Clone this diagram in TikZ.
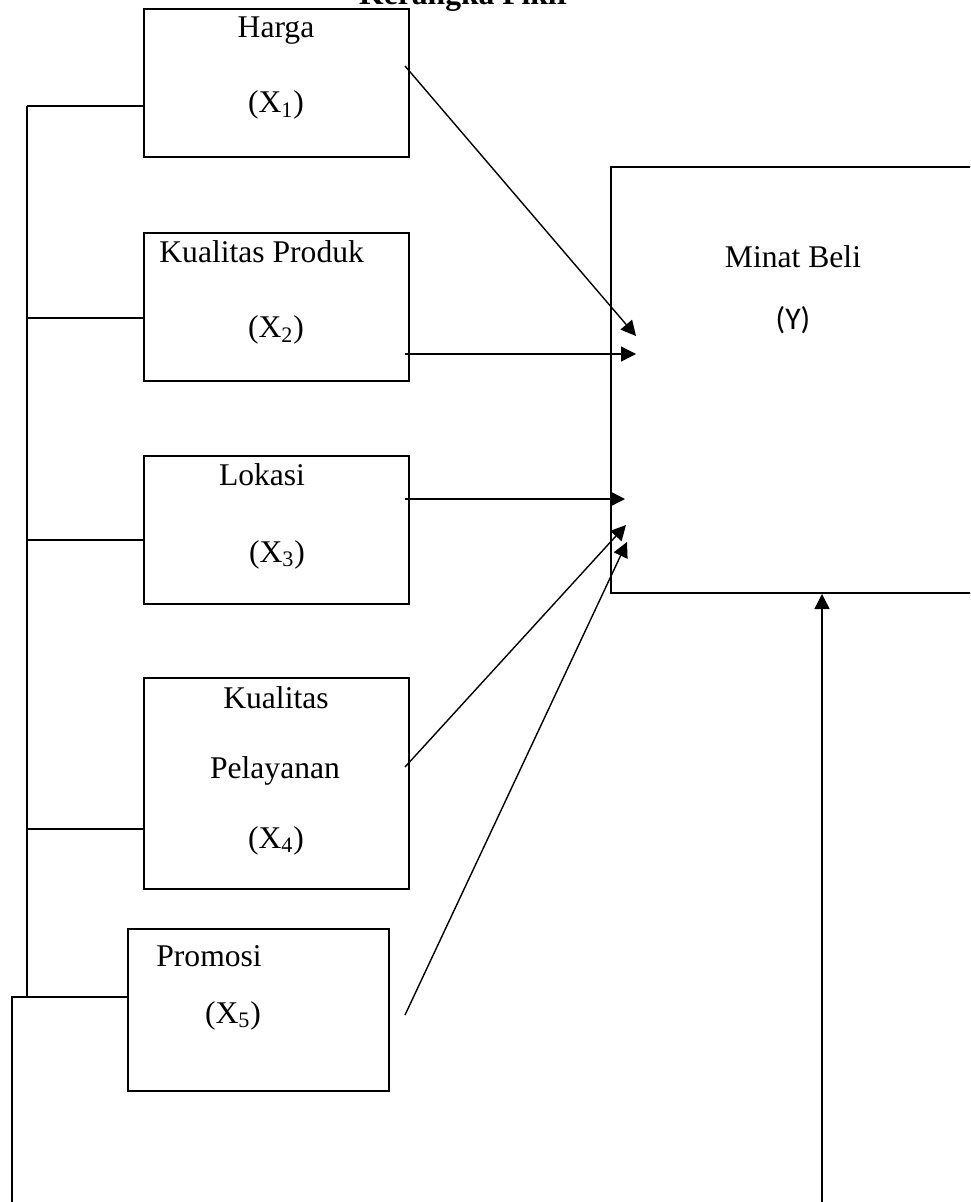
\documentclass[tikz,border=0pt]{standalone}
\usepackage{fontspec}
\setmainfont{Liberation Serif}
\newfontfamily\ysans{Carlito}
\usetikzlibrary{arrows.meta}
\tikzset{
  box/.style={draw, line width=1pt, inner sep=0pt},
  lbl/.style={anchor=base, inner sep=0pt, font=\fontsize{15.8}{18}\selectfont},
  wire/.style={line width=0.75pt},
  arr/.style={line width=0.7pt, -{Triangle[length=7.5pt,width=7.5pt]}},
}
\begin{document}
\begin{tikzpicture}[x=0.5pt,y=-0.5pt]
\useasboundingbox (0,0) rectangle (970,1202);
\clip (0,0) rectangle (970,1202);

% title (cut at top)
\node[lbl, font=\fontsize{15.8}{18}\selectfont\bfseries] (title) at (465,5) {Kerangka Pikir};

% boxes
\node[box, minimum width=132.5pt, minimum height=74pt] (x1) at (276.5,83) {};
\node[box, minimum width=132.5pt, minimum height=74pt] (x2) at (276.5,307) {};
\node[box, minimum width=132.5pt, minimum height=74pt] (x3) at (276.5,530) {};
\node[box, minimum width=132.5pt, minimum height=105.5pt] (x4) at (276.5,783.5) {};
\node[box, minimum width=130.5pt, minimum height=81pt] (x5) at (258.5,1010) {};
\node[box, minimum width=200pt, minimum height=213pt] (y) at (811,380) {};

% labels
\node[lbl] (t1a) at (276,38) {Harga};
\node[lbl] (t1b) at (276,113) {(X\textsubscript{1})};
\node[lbl, anchor=base west] (t2a) at (159,263) {Kualitas Produk};
\node[lbl] (t2b) at (276,338) {(X\textsubscript{2})};
\node[lbl] (t3a) at (262,486) {Lokasi};
\node[lbl] (t3b) at (277,562) {(X\textsubscript{3})};
\node[lbl] (t4a) at (276,708) {Kualitas};
\node[lbl] (t4b) at (275,778) {Pelayanan};
\node[lbl] (t4c) at (276,848) {(X\textsubscript{4})};
\node[lbl, anchor=base west] (t5a) at (156,966) {Promosi};
\node[lbl] (t5b) at (233,1023) {(X\textsubscript{5})};
\node[lbl] (tya) at (793,268) {Minat Beli};
\node[lbl, font=\fontsize{15.8}{18}\selectfont\ysans] (tyb) at (793,330) {(Y)};

% left bus
\coordinate (b1) at (27,106);
\coordinate (b2) at (27,318);
\coordinate (b3) at (27,540);
\coordinate (b4) at (27,829);
\coordinate (b5) at (27,997);
\coordinate (c5) at (12,997);
\coordinate (c6) at (12,1202);
\draw[wire] (b1) -- (b5);
\draw[wire] (b1) -- (x1.west |- b1);
\draw[wire] (b2) -- (x2.west |- b2);
\draw[wire] (b3) -- (x3.west |- b3);
\draw[wire] (b4) -- (x4.west |- b4);
\draw[wire] (c6) -- (c5) -- (x5.west |- c5);

% arrows
\coordinate (s1) at (405,66);   \coordinate (e1) at (636,336);
\coordinate (s2) at (405,354);  \coordinate (e2) at (636,354);
\coordinate (s3) at (405,499);  \coordinate (e3) at (625,499);
\coordinate (s4) at (405,767);  \coordinate (e4) at (626,525);
\coordinate (s5) at (405,1015); \coordinate (e5) at (627,542);
\coordinate (s6) at (822,1202);
\draw[arr] (s1) -- (e1);
\draw[arr] (s2) -- (e2);
\draw[arr] (s3) -- (e3);
\draw[arr] (s4) -- (e4);
\draw[arr] (s5) -- (e5);
\draw[arr] (s6) -- (y.south -| s6);
\end{tikzpicture}
\end{document}
